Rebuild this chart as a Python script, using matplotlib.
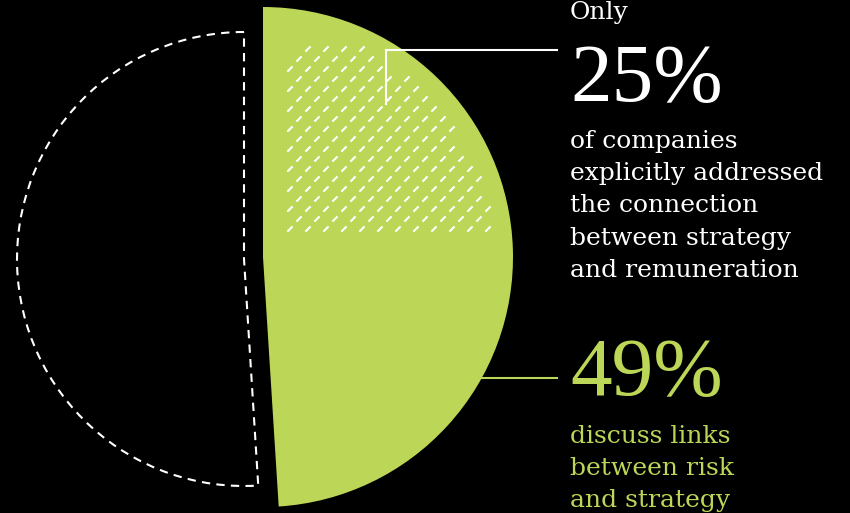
import numpy as np
import matplotlib.pyplot as plt
from matplotlib.collections import LineCollection

# shares shown in the graphic (percent of companies)
risk_share = 49
remun_share = 25
top_number = '25%'
bottom_number = '49%'
top_lines = ['of companies', 'explicitly addressed', 'the connection',
             'between strategy', 'and remuneration']
bottom_lines = ['discuss links', 'between risk', 'and strategy']

green = '#bcd757'

plt.rcParams.update({
    'font.family': 'DejaVu Serif',
    'figure.facecolor': 'black',
})

fig = plt.figure(figsize=(8.5, 5.13), dpi=100)
ax = fig.add_axes([0, 0, 1, 1])
ax.set_facecolor('black')

# green half: risk share, starting at 12 o'clock, clockwise
cx, cy, r = 263, 256, 250
wedges, _ = ax.pie([risk_share, 100 - risk_share], startangle=90, counterclock=False,
                   radius=r, center=(cx, cy), colors=[green, 'none'],
                   wedgeprops=dict(linewidth=0))
wedges[1].set_visible(False)

# the rest of the pie, pulled out to the left as a dashed outline
wedges2, _ = ax.pie([risk_share, 100 - risk_share], startangle=90, counterclock=False,
                    radius=227, center=(244, 254), colors=['none', 'none'],
                    wedgeprops=dict(linewidth=1.5, edgecolor='white',
                                    linestyle=(0, (4, 3)), fill=False))
wedges2[0].set_visible(False)

ax.set_xlim(0, 850)
ax.set_ylim(0, 513)
ax.set_aspect('equal')
ax.axis('off')

# short dashes over the remuneration quarter
theta1 = 90 - remun_share / 100 * 360
hr = 234
x_min, y_min, y_max = 287, 281, 476
half = 2.6
segs = []
for j in range(-40, 40):
    for i in range(-40, 40):
        px = x_min + 3 + i * 18 + (j % 2) * 9
        py = y_min + 3 + j * 10
        ends = [(px - half, py - half), (px + half, py + half)]
        ok = True
        for ex, ey in ends:
            ang = np.degrees(np.arctan2(ey - cy, ex - cx))
            if np.hypot(ex - cx, ey - cy) > hr or ex < x_min or ey < y_min \
                    or ey > y_max or ang < theta1 or ang > 90 \
                    or (ex - x_min) + (y_max - ey) < 26:
                ok = False
        if ok:
            segs.append(ends)
ax.add_collection(LineCollection(segs, colors='white', linewidths=1.5,
                                 capstyle='butt'))

# leader lines
ax.plot([386, 386, 557], [409, 463, 463], color='white', lw=1.5,
        solid_joinstyle='miter')
y_lead = 135
x_lead = cx + np.sqrt(r ** 2 - (y_lead - cy) ** 2)
ax.plot([x_lead - 2, 557], [y_lead, y_lead], color=green, lw=1.5)

# annotation text
body = dict(fontsize=18, va='baseline')
big = dict(fontsize=60, va='baseline', family='Liberation Serif')
ax.text(570, 494, 'Only', color='white', **body)
ax.text(570, 412, top_number, color='white', **big)
for k, line in enumerate(top_lines):
    ax.text(570, 365 - k * 32.2, line, color='white', **body)

ax.text(570, 118, bottom_number, color=green, **big)
for k, line in enumerate(bottom_lines):
    ax.text(570, 70 - k * 32, line, color=green, **body)

fig.savefig('out.png', dpi=100, facecolor='black')
